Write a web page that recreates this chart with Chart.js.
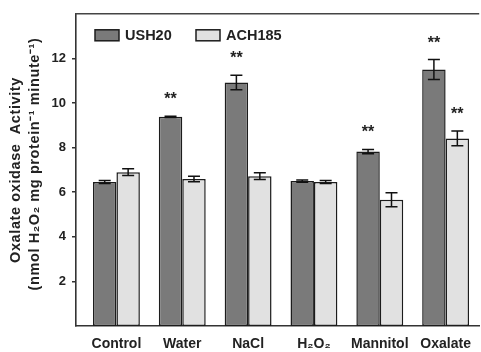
<!DOCTYPE html>
<html>
<head>
<meta charset="utf-8">
<script src="https://cdn.jsdelivr.net/npm/chart.js@4/dist/chart.umd.min.js"></script>
<style>
html,body{margin:0;padding:0;background:#fff;}
#wrap{width:481px;height:352px;position:relative;}
</style>
</head>
<body>
<div id="wrap"><canvas id="c" width="481" height="352"></canvas></div>
<script>
const categories = ["Control", "Water", "NaCl", "H\u2082O\u2082", "Mannitol", "Oxalate"];
const seriesNames = ["USH20", "ACH185"];
const ush20 = [6.46, 9.38, 10.92, 6.50, 7.82, 11.50];
const ush20Err = [0.07, 0.03, 0.33, 0.05, 0.10, 0.45];
const ach185 = [6.90, 6.59, 6.72, 6.46, 5.66, 8.41];
const ach185Err = [0.15, 0.12, 0.15, 0.07, 0.31, 0.33];
const ush20Sig = [false, true, true, false, true, true];
const ach185Sig = [false, false, false, false, false, true];
const yTicks = [2, 4, 6, 8, 10, 12];
const yTitle1 = "Oxalate oxidase  Activity";
const yTitle2 = "(nmol H\u2082O\u2082 mg protein\u207B\u00B9 minute\u207B\u00B9)";

const FONT = "'Liberation Sans', Arial, Helvetica, sans-serif";
const TXT = "#222";
const DARK = "#7a7a7a";
const LIGHT = "#e1e1e1";
const EDGE = "#1c1c1c";

const errs = [ush20Err, ach185Err];
const sigs = [ush20Sig, ach185Sig];

const overlay = {
  id: "overlay",
  afterDatasetsDraw(chart) {
    const ctx = chart.ctx;
    const ys = chart.scales.y;
    const area = chart.chartArea;
    ctx.save();
    // top border
    ctx.strokeStyle = "#444";
    ctx.lineWidth = 1.6;
    ctx.beginPath();
    ctx.moveTo(area.left - 0.8, area.top);
    ctx.lineTo(area.right, area.top);
    ctx.stroke();
    // error bars and asterisks
    chart.data.datasets.forEach((ds, di) => {
      const meta = chart.getDatasetMeta(di);
      meta.data.forEach((bar, i) => {
        const v = ds.data[i].y;
        const e = errs[di][i];
        const yTop = ys.getPixelForValue(v + e);
        const yBot = ys.getPixelForValue(v - e);
        const x = bar.x;
        const cap = 6;
        ctx.strokeStyle = "#111";
        ctx.lineWidth = 1.5;
        ctx.beginPath();
        ctx.moveTo(x, yTop); ctx.lineTo(x, yBot);
        ctx.moveTo(x - cap, yTop); ctx.lineTo(x + cap, yTop);
        ctx.moveTo(x - cap, yBot); ctx.lineTo(x + cap, yBot);
        ctx.stroke();
        if (sigs[di][i]) {
          ctx.fillStyle = TXT;
          ctx.font = "bold 16px " + FONT;
          ctx.textAlign = "center";
          ctx.textBaseline = "alphabetic";
          ctx.fillText("**", x, yTop - 12);
        }
      });
    });
    // legend
    const lx = area.left + 19, ly = area.top + 16;
    const items = [[seriesNames[0], DARK, 0], [seriesNames[1], LIGHT, 101]];
    items.forEach(([name, col, off]) => {
      ctx.fillStyle = col;
      ctx.fillRect(lx + off, ly, 24, 11);
      ctx.strokeStyle = EDGE;
      ctx.lineWidth = 1.5;
      ctx.strokeRect(lx + off, ly, 24, 11);
      ctx.fillStyle = TXT;
      ctx.font = "bold 14.5px " + FONT;
      ctx.textAlign = "left";
      ctx.textBaseline = "middle";
      ctx.fillText(name, lx + off + 30, ly + 6);
    });
    // y title
    ctx.fillStyle = TXT;
    ctx.textAlign = "center";
    ctx.textBaseline = "middle";
    ctx.letterSpacing = "0.6px";
    ctx.save();
    ctx.translate(16, 170);
    ctx.rotate(-Math.PI / 2);
    ctx.font = "bold 14.5px " + FONT;
    ctx.fillText(yTitle1, 0, 0);
    ctx.restore();
    ctx.save();
    ctx.translate(35, 164);
    ctx.rotate(-Math.PI / 2);
    ctx.font = "bold 14.5px " + FONT;
    ctx.fillText(yTitle2, 0, 0);
    ctx.restore();
    ctx.restore();
  }
};

new Chart(document.getElementById("c"), {
  type: "bar",
  data: {
    datasets: [
      {
        label: seriesNames[0],
        data: ush20.map((v, i) => ({ x: i, y: v })),
        backgroundColor: DARK,
        borderColor: EDGE,
        borderWidth: 1.5,
        borderSkipped: false
      },
      {
        label: seriesNames[1],
        data: ach185.map((v, i) => ({ x: i, y: v })),
        backgroundColor: LIGHT,
        borderColor: EDGE,
        borderWidth: 1.5,
        borderSkipped: false
      }
    ]
  },
  options: {
    responsive: false,
    animation: false,
    devicePixelRatio: 1,
    categoryPercentage: 0.712,
    barPercentage: 1.0,
    layout: { padding: { top: 11, right: 1, left: 0, bottom: 0 } },
    plugins: { legend: { display: false }, tooltip: { enabled: false } },
    scales: {
      x: {
        type: "linear",
        offset: false,
        min: -0.614,
        max: 5.51,
        afterBuildTicks(s) { s.ticks = categories.map((_, i) => ({ value: i })); },
        afterFit(s) { s.height = 26; },
        grid: { display: false, drawTicks: false, offset: false },
        border: { display: true, color: "#333", width: 1.6 },
        ticks: {
          padding: 10,
          color: TXT,
          font: { family: FONT, size: 14, weight: "bold" },
          callback: (v) => categories[v] ?? ""
        }
      },
      y: {
        min: 0,
        max: 14,
        afterBuildTicks(s) { s.ticks = yTicks.map(v => ({ value: v })); },
        afterFit(s) { s.width = 76; },
        grid: { display: true, drawOnChartArea: false, drawTicks: true, tickLength: 4, color: "#333", lineWidth: 1.5 },
        border: { display: true, color: "#333", width: 1.6 },
        ticks: {
          padding: 6,
          color: TXT,
          font: { family: FONT, size: 13, weight: "bold" }
        }
      }
    }
  },
  plugins: [overlay]
});
</script>
</body>
</html>
